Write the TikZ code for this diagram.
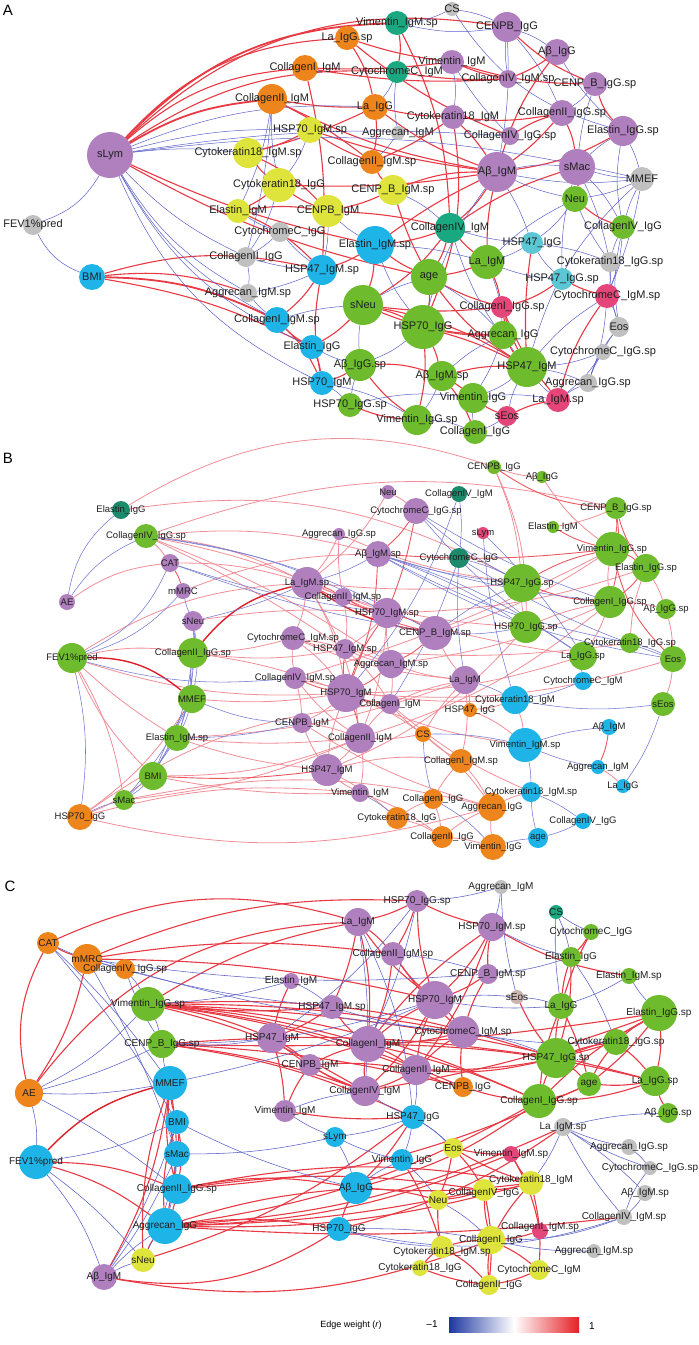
\documentclass[tikz,border=0pt]{standalone}
\usepackage{fontspec}
\setmainfont{Liberation Sans}
\pgfdeclarelayer{back}\pgfdeclarelayer{bg}\pgfdeclarelayer{fg}\pgfsetlayers{back,bg,main,fg}
\definecolor{npur}{RGB}{175,127,190}
\definecolor{nora}{RGB}{238,132,28}
\definecolor{nyel}{RGB}{222,228,60}
\definecolor{nteal}{RGB}{26,168,128}
\definecolor{ngray}{RGB}{192,192,192}
\definecolor{ncyan}{RGB}{30,180,232}
\definecolor{ngreen}{RGB}{110,188,45}
\definecolor{nlteal}{RGB}{92,198,212}
\definecolor{npink}{RGB}{228,70,122}
\definecolor{ndteal}{RGB}{30,138,108}
\definecolor{npgray}{RGB}{202,180,176}
\definecolor{ered}{RGB}{232,58,68}
\definecolor{eblue}{RGB}{92,98,200}
\definecolor{epink}{RGB}{241,142,152}
\definecolor{emred}{RGB}{236,88,96}
\definecolor{edred}{RGB}{222,30,40}
\definecolor{lgblue}{RGB}{30,55,160}
\definecolor{lgred}{RGB}{228,32,38}
\tikzset{
  dot/.style={circle,inner sep=0pt,outer sep=0pt,draw=none},
  labA/.style={font=\fontsize{11}{11}\selectfont,inner sep=0pt,text=black!88},
  labB/.style={font=\fontsize{9.5}{9.5}\selectfont,inner sep=0pt,text=black!88},
  labC/.style={font=\fontsize{10}{10}\selectfont,inner sep=0pt,text=black!88},
  ra/.style={draw=ered,line width=1.1pt},
  raa/.style={draw=ered,line width=1.8pt},
  ba/.style={draw=eblue,line width=0.5pt},
  pk/.style={draw=epink,line width=0.8pt},
  mr/.style={draw=emred,line width=0.9pt},
  dr/.style={draw=edred,line width=1.4pt},
  bb/.style={draw=eblue!85,line width=0.55pt},
  rc/.style={draw=ered,line width=1.1pt},
  bc/.style={draw=eblue,line width=0.55pt},
  panel/.style={font=\fontsize{15}{15}\selectfont,inner sep=0pt}
}
% [#1 label shift], #2 name, #3 x, #4 y, #5 radius, #6 colour, #7 text
\newcommand\nd[7][]{\node[dot,fill=#6,minimum size={2*#5}] (#2) at (#3,#4) {};%
  \begin{pgfonlayer}{fg}\node[lab,#1] (#2t) at (#2.center) {#7};\end{pgfonlayer}}
\newcommand\edges[2]{\begin{pgfonlayer}{bg}\foreach \pa/\pb/\pc in {#2}{\draw[#1] (\pa) to[bend left=\pc] (\pb);}\end{pgfonlayer}}
\begin{document}
\begin{tikzpicture}[x=1pt,y=-1pt]
\useasboundingbox (0,0) rectangle (699,1345);
\begin{pgfonlayer}{back}\fill[white] (0,0) rectangle (699,1345);\end{pgfonlayer}
% ================= PANEL A =================
\node[panel] (pA) at (8,10) {A};
\begin{scope}[lab/.style=labA]
\nd{aLym}{110}{155}{23}{npur}{sLym}
\nd{aFEV}{33}{225}{10}{ngray}{FEV1\%pred}
\nd{aBMI}{92}{277}{13}{ncyan}{BMI}
\nd{aLaGsp}{347}{38}{12}{nora}{La\_IgG.sp}
\nd{aC1M}{305}{68}{13}{nora}{CollagenI\_IgM}
\nd{aC2M}{272}{99}{15}{nora}{CollagenII\_IgM}
\nd{aH70Msp}{310}{130}{13}{nyel}{HSP70\_IgM.sp}
\nd{aK18Msp}{248}{153}{15}{nyel}{Cytokeratin18\_IgM.sp}
\nd{aK18G}{279}{185}{17}{nyel}{Cytokeratin18\_IgG}
\nd{aElM}{238}{211}{12}{nyel}{Elastin\_IgM}
\nd{aCenpbM}{328}{211}{16}{nyel}{CENPB\_IgM}
\nd{aCytCG}{280}{232}{10}{ngray}{CytochromeC\_IgG}
\nd{aCS}{452}{9}{7}{ngray}{CS}
\nd{aVimMsp}{397}{23}{12}{nteal}{Vimentin\_IgM.sp}
\nd{aCenpbG}{507}{27}{15}{npur}{CENPB\_IgG}
\nd{aAbG}{557}{52}{13}{npur}{Aβ\_IgG}
\nd{aVimM}{452}{62}{12}{npur}{Vimentin\_IgM}
\nd{aCytCM}{397}{72}{11}{nteal}{CytochromeC\_IgM}
\nd{aC4Msp}{508}{79}{9}{npur}{CollagenIV\_IgM.sp}
\nd{aCenpBGsp}{595}{84}{12}{npur}{CENP\_B\_IgG.sp}
\nd{aLaG}{375}{107}{13}{nora}{La\_IgG}
\nd{aK18M}{453}{117}{12}{npur}{Cytokeratin18\_IgM}
\nd{aC2Gsp}{562}{113}{13}{npur}{CollagenII\_IgG.sp}
\nd{aAggM}{398}{133}{7}{ngray}{Aggrecan\_IgM}
\nd{aC4Gsp}{510}{136}{9}{npur}{CollagenIV\_IgG.sp}
\nd{aElGsp}{623}{131}{15}{npur}{Elastin\_IgG.sp}
\nd{aC2Msp}{372}{162}{12}{nora}{CollagenII\_IgM.sp}
\nd{aAbM}{497}{172}{20}{npur}{Aβ\_IgM}
\nd{aMac}{577}{167}{18}{npur}{sMac}
\nd{aMMEF}{642}{179}{12}{ngray}{MMEF}
\nd{aCenpBMsp}{393}{190}{15}{nyel}{CENP\_B\_IgM.sp}
\nd{aNeu}{575}{199}{13}{ngreen}{Neu}
\nd{aC4M}{450}{228}{15}{nteal}{CollagenIV\_IgM}
\nd{aC4G}{623}{227}{12}{ngreen}{CollagenIV\_IgG}
\nd{aC2G}{246}{257}{10}{ngray}{CollagenII\_IgG}
\nd{aH47Msp}{322}{270}{15}{ncyan}{HSP47\_IgM.sp}
\nd{aAggMsp}{248}{293}{9}{ngray}{Aggrecan\_IgM.sp}
\nd{aC1Msp}{277}{320}{13}{ncyan}{CollagenI\_IgM.sp}
\nd{aElG}{312}{347}{12}{ncyan}{Elastin\_IgG}
\nd{aH70M}{322}{383}{12}{ncyan}{HSP70\_IgM}
\nd{aElMsp}{375}{245}{19}{ncyan}{Elastin\_IgM.sp}
\nd{aH47G}{532}{243}{11}{nlteal}{HSP47\_IgG}
\nd{aLaM}{487}{262}{17}{ngreen}{La\_IgM}
\nd{aAge}{429}{277}{18}{ngreen}{age}
\nd{aK18Gsp}{610}{262}{10}{ngray}{Cytokeratin18\_IgG.sp}
\nd{aH47Gsp}{562}{279}{11}{nlteal}{HSP47\_IgG.sp}
\nd{aCytCMsp}{607}{296}{12}{npink}{CytochromeC\_IgM.sp}
\nd{aNeuS}{363}{305}{20}{ngreen}{sNeu}
\nd{aC1Gsp}{502}{307}{11}{npink}{CollagenI\_IgG.sp}
\nd{aH70G}{423}{327}{22}{ngreen}{HSP70\_IgG}
\nd{aAggG}{503}{335}{14}{ngreen}{Aggrecan\_IgG}
\nd{aEos}{619}{327}{10}{ngray}{Eos}
\nd{aCytCGsp}{603}{352}{8}{ngray}{CytochromeC\_IgG.sp}
\nd{aAbGsp}{360}{365}{16}{ngreen}{Aβ\_IgG.sp}
\nd{aH47M}{527}{367}{20}{ngreen}{HSP47\_IgM}
\nd{aAbMsp}{442}{376}{15}{ngreen}{Aβ\_IgM.sp}
\nd{aAggGsp}{588}{383}{9}{ngray}{Aggrecan\_IgG.sp}
\nd{aH70Gsp}{350}{405}{12}{ngreen}{HSP70\_IgG.sp}
\nd{aVimG}{473}{398}{15}{ngreen}{Vimentin\_IgG}
\nd{aLaMsp}{558}{400}{12}{npink}{La\_IgM.sp}
\nd{aEosS}{507}{416}{10}{npink}{sEos}
\nd{aVimGsp}{417}{420}{15}{ngreen}{Vimentin\_IgG.sp}
\nd{aC1G}{475}{432}{12}{ngreen}{CollagenI\_IgG}
\end{scope}
\edges{ra}{aLym/aLaGsp/22,aLym/aC1M/18,aLym/aCytCM/18,aLym/aCenpbG/26,aLym/aElMsp/-6,aLym/aAge/-8,
aBMI/aH47Msp/14,aBMI/aAggMsp/12,aBMI/aElG/8,
aLaGsp/aVimM/-5,aLaGsp/aC4Gsp/-8,aLaGsp/aLaG/10,aC1M/aVimM/-4,aC1M/aC4Msp/-6,aC1M/aH47Msp/8,
aC2M/aLaG/-5,aC2M/aC2Msp/5,aC2M/aAbM/-8,
aVimMsp/aCytCM/10,aVimMsp/aC4M/12,aCenpbG/aCenpBGsp/-10,aAbG/aC4Msp/6,aAbG/aAbM/-10,
aVimM/aC4Msp/-5,aVimM/aCenpBGsp/-8,aCytCM/aC4Msp/-5,aCenpBGsp/aElGsp/-12,
aLaG/aK18M/-5,aLaG/aC2Msp/8,aLaG/aAbM/-8,aK18M/aAbM/6,aK18M/aC2Gsp/-8,aK18M/aH70G/15,
aC2Gsp/aMac/8,aC2Gsp/aC4Gsp/-8,aC2Gsp/aAbM/6,aElGsp/aAbM/10,
aAbM/aC4M/8,aAbM/aCenpBMsp/-10,aAbM/aElMsp/-5,aAbM/aLaM/-6,
aMac/aNeu/8,aMac/aC4M/-8,aNeu/aC4G/-10,
aH70Msp/aK18Msp/6,aH70Msp/aC2Msp/-5,aH70Msp/aAbM/-5,aK18Msp/aK18G/-8,aK18Msp/aCenpbM/10,aK18Msp/aLaG/-5,
aK18G/aElM/6,aK18G/aCenpbM/-6,aK18G/aAbM/-5,aElM/aCenpbM/8,aElM/aH47Msp/10,
aCenpbM/aCenpBMsp/-6,aCenpbM/aC4M/5,aCenpBMsp/aC2Msp/8,aCenpBMsp/aAge/-5,aC2Msp/aK18M/-6,
aH47Msp/aC1Msp/8,aH47Msp/aElMsp/-6,aH47Msp/aH70M/-10,
aC1Msp/aElG/-8,aC1Msp/aH70M/10,aElG/aH70M/8,aElG/aNeuS/-8,aH70M/aAbGsp/-6,
aElMsp/aAge/-6,aElMsp/aNeuS/8,aElMsp/aC4M/-6,
aC4M/aAge/8,aC4M/aLaM/-6,aC4M/aNeuS/10,
aAge/aLaM/-6,aAge/aH70G/8,aAge/aC1Gsp/-6,aAge/aH47M/-10,aLaM/aC1Gsp/6,aH47G/aH47M/-5,
aH47Gsp/aCytCMsp/-6,aH47Gsp/aC1Gsp/10,aCytCMsp/aLaMsp/-10,
aNeuS/aH70G/6,aNeuS/aAggG/-10,aNeuS/aH47M/10,aNeuS/aC1Gsp/-6,
aC1Gsp/aAggG/8,aC1Gsp/aH47M/-5,aC1Gsp/aLaMsp/-8,
aH70G/aAggG/-6,aH70G/aAbMsp/6,aH70G/aVimGsp/8,aH70G/aH47M/5,
aAggG/aH47M/-6,aAbGsp/aAbMsp/10,aAbGsp/aVimGsp/-8,
aH47M/aAbMsp/-8,aAbMsp/aVimG/6,aAbMsp/aC1G/8,aH70Gsp/aVimGsp/-8,
aVimG/aEosS/-6,aLaMsp/aEosS/-8}
\edges{raa}{aLym/aVimMsp/22,aLym/aC2M/12,aBMI/aC1Msp/12}
\edges{ba}{aLym/aH70Msp/8,aLym/aK18Msp/6,aLym/aLaG/12,aLym/aC4Gsp/6,aLym/aMMEF/10,aLym/aFEV/20,
aLym/aAggMsp/-14,aLym/aC1Msp/-16,aLym/aElG/-18,aLym/aH70M/-20,aLym/aC2G/-10,
aFEV/aBMI/-20,
aC2M/aC2G/5,aC2M/aElM/8,aC2M/aK18G/-6,
aVimMsp/aCenpbG/-10,aCS/aVimMsp/10,aCS/aCenpbG/8,aCS/aElGsp/-20,
aCenpbG/aAbG/8,aCenpbG/aC4Msp/-6,aCenpbG/aC2Gsp/8,aCenpbG/aAbM/6,aAbG/aElGsp/-8,
aVimM/aK18M/8,aVimM/aC4Gsp/-6,aCytCM/aLaG/8,aCytCM/aAggM/-8,aCenpBGsp/aC2Gsp/8,aCenpBGsp/aMac/-6,
aElGsp/aMMEF/6,aElGsp/aMac/-6,aElGsp/aC4G/-10,
aAbM/aMac/8,aAbM/aNeu/-6,aAbM/aMMEF/-8,aAbM/aH70G/-10,aAbM/aH47G/6,
aMac/aMMEF/-6,aMac/aC4G/8,aMac/aH47Gsp/-8,aMac/aK18Gsp/6,
aMMEF/aNeu/8,aMMEF/aC4G/-6,aMMEF/aH47M/-15,aMMEF/aCytCMsp/6,
aNeu/aK18Gsp/-6,aNeu/aH47G/8,aNeu/aLaM/-8,
aC4G/aCytCMsp/8,aC4G/aK18Gsp/-6,aC4G/aEos/-10,
aH70Msp/aK18G/8,aK18G/aC2G/8,aElM/aCytCG/-6,aCenpbM/aH47Msp/6,aCenpbM/aElMsp/-6,
aCenpBMsp/aC4M/8,aC2Msp/aAggM/-6,aCytCG/aC2G/6,aCytCG/aH47Msp/-6,
aC2G/aAggMsp/8,aC2G/aH47Msp/-6,aH47Msp/aAggMsp/6,aAggMsp/aC1Msp/-8,
aC1Msp/aNeuS/6,aElG/aAbGsp/-6,aH70M/aH70Gsp/8,aH70M/aVimGsp/10,
aElMsp/aLaM/6,aElMsp/aH70G/-8,aC4M/aH47G/-6,aC4M/aH47M/-10,
aAge/aNeuS/-6,aAge/aAggG/8,aLaM/aH47G/-6,aLaM/aAggG/8,aLaM/aH47Gsp/-8,
aH47G/aK18Gsp/6,aH47G/aH47Gsp/-8,aK18Gsp/aCytCMsp/8,aK18Gsp/aEos/-8,
aCytCMsp/aEos/6,aCytCMsp/aH47M/-8,aCytCMsp/aAggGsp/8,
aNeuS/aAbGsp/-6,aH70G/aAbGsp/8,aAggG/aAbMsp/-8,aAggG/aVimG/6,
aEos/aCytCGsp/-6,aEos/aAggGsp/-10,aCytCGsp/aH47M/8,aCytCGsp/aAggGsp/-6,aCytCGsp/aLaMsp/8,
aAbGsp/aH70Gsp/-6,aH47M/aVimG/8,aH47M/aLaMsp/-6,aH47M/aAggGsp/6,aH47M/aEosS/-8,
aAbMsp/aVimGsp/6,aAggGsp/aLaMsp/-6,aH70Gsp/aVimG/10,aVimG/aC1G/-6,aVimG/aLaMsp/8,
aEosS/aC1G/6,aVimGsp/aC1G/10}
% ================= PANEL B =================
\node[panel] (pB) at (8,458) {B};
\begin{scope}[lab/.style=labB]
\nd{bElG}{121}{510}{9}{ndteal}{Elastin\_IgG}
\nd{bC4Gsp}{146}{536}{12}{ngreen}{CollagenIV\_IgG.sp}
\nd{bCAT}{170}{563}{9}{npur}{CAT}
\nd{bMRC}{183}{591}{8}{npur}{mMRC}
\nd{bAE}{67}{602}{8}{npur}{AE}
\nd{bNeuS}{193}{621}{10}{npur}{sNeu}
\nd{bFEV}{72}{658}{15}{ngreen}{FEV1\%pred}
\nd{bC2Gsp}{193}{653}{15}{ngreen}{CollagenII\_IgG.sp}
\nd{bMMEF}{192}{699}{14}{ngreen}{MMEF}
\nd{bElMsp}{177}{738}{13}{ngreen}{Elastin\_IgM.sp}
\nd{bBMI}{153}{776}{14}{ngreen}{BMI}
\nd{bMac}{124}{800}{10}{ngreen}{sMac}
\nd{bH70G}{80}{817}{13}{nora}{HSP70\_IgG}
\nd{bAggGsp}{339}{534}{6}{npur}{Aggrecan\_IgG.sp}
\nd{bNeu}{388}{492}{7}{npur}{Neu}
\nd{bC4M}{459}{494}{8}{ndteal}{CollagenIV\_IgM}
\nd{bCytCGsp}{416}{511}{13}{npur}{CytochromeC\_IgG.sp}
\nd{bCenpbG}{494}{467}{7}{ngreen}{CENPB\_IgG}
\nd{bAbG}{542}{477}{6}{ngreen}{Aβ\_IgG}
\nd{bCenpBGsp}{616}{508}{11}{ngreen}{CENP\_B\_IgG.sp}
\nd{bElM}{553}{527}{6}{ngreen}{Elastin\_IgM}
\nd{bLym}{483}{533}{6}{npink}{sLym}
\nd{bAbMsp}{378}{554}{13}{npur}{Aβ\_IgM.sp}
\nd{bCytCG}{459}{558}{10}{ndteal}{CytochromeC\_IgG}
\nd{bVimGsp}{612}{549}{17}{ngreen}{Vimentin\_IgG.sp}
\nd{bElGsp}{646}{568}{14}{ngreen}{Elastin\_IgG.sp}
\nd{bH47Gsp}{522}{583}{19}{ngreen}{HSP47\_IgG.sp}
\nd{bC1Gsp}{610}{602}{16}{ngreen}{CollagenI\_IgG.sp}
\nd{bAbGsp}{666}{609}{10}{ngreen}{Aβ\_IgG.sp}
\nd{bLaMsp}{307}{583}{16}{npur}{La\_IgM.sp}
\nd{bC2Msp}{343}{597}{9}{npur}{CollagenII\_IgM.sp}
\nd{bH70Msp}{387}{613}{15}{npur}{HSP70\_IgM.sp}
\nd{bH70Gsp}{526}{627}{16}{ngreen}{HSP70\_IgG.sp}
\nd{bCenpBMsp}{435}{633}{17}{npur}{CENP\_B\_IgM.sp}
\nd{bK18Gsp}{630}{643}{10}{ngreen}{Cytokeratin18\_IgG.sp}
\nd{bCytCMsp}{293}{638}{12}{npur}{CytochromeC\_IgM.sp}
\nd{bH47Msp}{345}{649}{10}{npur}{HSP47\_IgM.sp}
\nd{bLaGsp}{583}{656}{14}{ngreen}{La\_IgG.sp}
\nd{bEos}{673}{659}{13}{ngreen}{Eos}
\nd{bAggMsp}{391}{664}{14}{npur}{Aggrecan\_IgM.sp}
\nd{bC4Msp}{295}{678}{11}{npur}{CollagenIV\_IgM.sp}
\nd{bLaM}{465}{680}{14}{npur}{La\_IgM}
\nd{bCytCM}{583}{681}{9}{ncyan}{CytochromeC\_IgM}
\nd{bH70M}{346}{693}{19}{npur}{HSP70\_IgM}
\nd{bK18M}{515}{700}{14}{ncyan}{Cytokeratin18\_IgM}
\nd{bEosS}{663}{704}{12}{ngreen}{sEos}
\nd{bC1M}{390}{704}{10}{npur}{CollagenI\_IgM}
\nd{bH47G}{470}{710}{7}{nora}{HSP47\_IgG}
\nd{bCenpbM}{302}{723}{10}{npur}{CENPB\_IgM}
\nd{bAbM}{609}{727}{8}{ncyan}{Aβ\_IgM}
\nd{bCS}{423}{734}{8}{nora}{CS}
\nd{bC2M}{360}{738}{15}{npur}{CollagenII\_IgM}
\nd{bVimMsp}{525}{745}{17}{ncyan}{Vimentin\_IgM.sp}
\nd{bC1Msp}{461}{761}{12}{nora}{CollagenI\_IgM.sp}
\nd{bAggM}{598}{767}{7}{ncyan}{Aggrecan\_IgM}
\nd{bH47M}{327}{770}{16}{npur}{HSP47\_IgM}
\nd{bLaG}{623}{786}{7}{ncyan}{La\_IgG}
\nd{bK18Msp}{531}{792}{10}{ncyan}{Cytokeratin18\_IgM.sp}
\nd{bVimM}{360}{793}{9}{npur}{Vimentin\_IgM}
\nd{bC1G}{433}{799}{10}{nora}{CollagenI\_IgG}
\nd{bAggG}{492}{807}{14}{nora}{Aggrecan\_IgG}
\nd{bK18G}{397}{818}{11}{nora}{Cytokeratin18\_IgG}
\nd{bC4G}{583}{821}{8}{ncyan}{CollagenIV\_IgG}
\nd{bC2G}{442}{837}{11}{nora}{CollagenII\_IgG}
\nd{bAge}{538}{838}{10}{ncyan}{age}
\nd{bVimG}{493}{847}{13}{nora}{Vimentin\_IgG}
\end{scope}
\edges{pk}{bElG/bCenpbG/25,bElG/bH47Gsp/18,bC4Gsp/bCenpBGsp/16,bCenpbG/bAbG/-8,bCenpbG/bH47Gsp/8,
bCAT/bAE/-14,bC4Gsp/bCAT/6,bC4Gsp/bLaMsp/10,bC4Gsp/bC2Msp/6,bC4Gsp/bAbMsp/10,bC4Gsp/bH47Msp/4,bC4Gsp/bAggMsp/6,
bCAT/bLaMsp/8,bFEV/bC2Gsp/10,bFEV/bElMsp/-5,bFEV/bBMI/-10,bFEV/bMac/10,bFEV/bH70M/-10,
bC2Gsp/bCytCMsp/-6,bC2Gsp/bH47Msp/-8,bC2Gsp/bH70M/6,bMMEF/bH70M/-6,bElMsp/bH47M/-6,bElMsp/bC2M/-5,
bBMI/bH70G/6,bBMI/bC2M/-10,bBMI/bVimM/-6,bMac/bAggG/12,bH70G/bVimM/10,bH70G/bC1M/15,bH70G/bMMEF/-10,
bLaMsp/bH47Gsp/-5,bLaMsp/bCytCMsp/8,bLaMsp/bH70M/10,bLaMsp/bC2M/12,
bC2Msp/bH70Msp/-6,bC2Msp/bH47Msp/8,bH70Msp/bAggMsp/-6,bH70Msp/bH47Msp/6,bH70Msp/bC2M/8,
bCenpBMsp/bLaM/-6,bCytCMsp/bH47Msp/-6,bCytCMsp/bH70M/8,bCytCMsp/bC4Msp/-6,bCytCMsp/bAggMsp/6,
bH47Msp/bAggMsp/-6,bH47Msp/bC1M/8,bAggMsp/bLaM/-6,bAggMsp/bC1M/6,
bC4Msp/bCenpbM/6,bC4Msp/bC2M/-8,bH70M/bCenpbM/6,bH70M/bH47M/-8,bH70M/bCS/6,
bC1M/bC2M/-6,bC1M/bLaM/6,bC1M/bCS/-6,bCenpbM/bC2M/6,bCenpbM/bH47M/-6,bC2M/bH47M/6,bC2M/bCS/-6,bC2M/bVimM/8,
bH47M/bVimM/-6,bH47M/bC1Msp/10,bLaM/bH47G/6,bLaM/bCS/-6,bLaM/bC1Msp/8,bCS/bC1Msp/-6,bCS/bAggG/8,
bH47G/bK18M/-6,bH47G/bVimMsp/8,bC1Msp/bC1G/-6,bC1Msp/bAggG/6,bC1G/bK18G/-6,bC1G/bC2G/6,bAggG/bVimG/-6,
bK18G/bC2G/8,bC2G/bVimG/6,bAggG/bC2G/-6,bK18M/bVimMsp/6,bK18Msp/bAggG/-6,bAggM/bLaG/6,
bVimGsp/bC1Gsp/-8,bElGsp/bAbGsp/6,bElGsp/bK18Gsp/-8,bC1Gsp/bAbGsp/6,bC1Gsp/bH70Gsp/-6,bC1Gsp/bLaGsp/6,
bH47Gsp/bH70Gsp/-6,bEos/bEosS/8,bEos/bAbGsp/-6,bElM/bCenpBGsp/-6,
bNeu/bCytCGsp/6,bNeu/bLaMsp/10,bAggGsp/bLaMsp/8,bAggGsp/bC2Msp/-6,bAggGsp/bH47Gsp/-8,
bH70M/bLaGsp/-8,bC2M/bC1Gsp/-10,bH47M/bH70Gsp/-12,bH70M/bEos/-10,bC4Msp/bVimGsp/-5,
bCenpbG/bH70Gsp/12,bAbG/bVimGsp/-10,bLaMsp/bLaGsp/-6,bH47Msp/bK18Gsp/-6,bAggMsp/bC1Gsp/-8,
bCenpBMsp/bVimGsp/-8,bH70Msp/bElGsp/-8,bC2Msp/bH70Gsp/-6,bCytCMsp/bLaM/-8,bC4Msp/bK18M/-8,
bH70M/bVimMsp/-8,bC1M/bK18Msp/-8,bCenpbM/bAggG/-8,bH47M/bK18G/6,bVimM/bC2G/8,
bFEV/bLaMsp/14,bNeuS/bH70Msp/6,bMRC/bAbMsp/10,bH70G/bAggG/-14,bMac/bC2M/-8,bElMsp/bLaM/-8}
\edges{mr}{bCenpbG/bCenpBGsp/-15,bCAT/bMRC/8,bBMI/bH47M/-5,bLaMsp/bC2Msp/8,bLaMsp/bH70Msp/-8,bC2Msp/bCenpBMsp/-8,
bH70Msp/bCenpBMsp/8,bH70Msp/bH70M/-8,bCenpBMsp/bAggMsp/8,bH47Msp/bH70M/-6,bAggMsp/bH70M/8,bC4Msp/bH70M/-6,
bH70M/bC1M/-6,bH70M/bC2M/8,bAbM/bAggM/8,bCenpBGsp/bVimGsp/8,bCenpBGsp/bElGsp/-10,bCenpBGsp/bC1Gsp/10,
bVimGsp/bElGsp/8,bVimGsp/bH47Gsp/-8,bElGsp/bC1Gsp/8,bH47Gsp/bC1Gsp/-8,bVimGsp/bEos/-15,bElM/bVimGsp/-8,
bCytCGsp/bAbMsp/8,bCytCGsp/bH70Msp/5,bAbMsp/bH70M/10,bAbMsp/bVimGsp/-5}
\edges{dr}{bFEV/bMMEF/20,bC2Gsp/bLaMsp/18,bLaMsp/bCenpBMsp/-12}
\edges{bb}{bElG/bAE/-20,bC4Gsp/bAE/-15,bC4Gsp/bH70Msp/10,bC4Gsp/bCenpBMsp/10,bCAT/bFEV/20,bCAT/bH70Msp/-5,bCAT/bCenpBMsp/-5,
bMRC/bNeuS/-6,bMRC/bFEV/15,bNeuS/bC2Gsp/6,bNeuS/bLaMsp/-5,bNeuS/bMMEF/10,bNeuS/bElMsp/10,
bFEV/bH70G/10,bFEV/bC4Msp/-10,bC2Gsp/bMMEF/-6,bC2Gsp/bElMsp/8,bC2Gsp/bBMI/10,
bMMEF/bElMsp/6,bMMEF/bBMI/-5,bMMEF/bMac/6,bMMEF/bCenpbM/-10,bElMsp/bBMI/-6,bElMsp/bMac/6,bElMsp/bCenpbM/-6,
bBMI/bMac/6,bMac/bH70G/-6,bLaMsp/bAbMsp/-6,bCenpBMsp/bH70Gsp/-6,bCenpBMsp/bH47Gsp/6,
bLaM/bK18M/6,bCS/bC1G/-6,bCS/bVimMsp/6,bC1G/bVimG/8,bK18G/bVimM/-6,
bK18M/bCytCM/-6,bK18M/bEosS/-8,bVimMsp/bK18Msp/6,bVimMsp/bAggM/-6,bVimMsp/bAbM/6,
bK18Msp/bAge/-6,bK18Msp/bC4G/6,bLaG/bEosS/-8,bC4G/bAge/6,bAge/bVimG/-6,bK18Gsp/bEos/6,bLaGsp/bCytCM/-6,
bCytCGsp/bH47Gsp/-6,bCytCGsp/bC1Gsp/-6,bC4M/bCytCG/6,bC4M/bH70M/10,bLym/bK18M/-6,
bCytCG/bH47Gsp/6,bCytCG/bLaM/-6,bCytCG/bC1M/6,bAbMsp/bH47Gsp/-6,bAbMsp/bC1Gsp/-5,bAbMsp/bH70Gsp/6,bAbMsp/bLaGsp/8,
bAbMsp/bK18Gsp/-8,bCytCGsp/bLaGsp/-8,bCytCG/bEos/-6,bLym/bLaGsp/6,bAbMsp/bEos/-10}
% ================= PANEL C =================
\node[panel] (pC) at (10,886) {C};
\begin{scope}[lab/.style=labC]
\nd{cCAT}{48}{943}{11}{nora}{CAT}
\nd{cMRC}{87}{959}{15}{nora}{mMRC}
\nd{cC4Gsp}{125}{969}{10}{nora}{CollagenIV\_IgG.sp}
\nd{cVimGsp}{148}{1004}{17}{ngreen}{Vimentin\_IgG.sp}
\nd{cElM}{291}{981}{8}{npur}{Elastin\_IgM}
\nd{cH47Msp}{332}{1007}{12}{npur}{HSP47\_IgM.sp}
\nd{cH47M}{272}{1038}{15}{npur}{HSP47\_IgM}
\nd{cCenpBGsp}{162}{1044}{14}{ngreen}{CENP\_B\_IgG.sp}
\nd{cCenpbM}{310}{1065}{11}{npur}{CENPB\_IgM}
\nd{cAE}{29}{1093}{14}{nora}{AE}
\nd{cMMEF}{170}{1083}{17}{ncyan}{MMEF}
\nd{cVimM}{285}{1111}{11}{npur}{Vimentin\_IgM}
\nd{cAggM}{501}{887}{7}{ngray}{Aggrecan\_IgM}
\nd{cH70Gsp}{417}{901}{11}{npur}{HSP70\_IgG.sp}
\nd{cLaM}{358}{922}{14}{npur}{La\_IgM}
\nd{cCS}{556}{912}{7}{nteal}{CS}
\nd{cH70Msp}{492}{927}{14}{npur}{HSP70\_IgM.sp}
\nd{cCytCG}{591}{932}{8}{ngreen}{CytochromeC\_IgG}
\nd{cC2Msp}{393}{954}{12}{npur}{CollagenII\_IgM.sp}
\nd{cElG}{571}{957}{10}{ngreen}{Elastin\_IgG}
\nd{cCenpBMsp}{488}{974}{10}{npur}{CENP\_B\_IgM.sp}
\nd{cElMsp}{629}{976}{8}{ngreen}{Elastin\_IgM.sp}
\nd{cEosS}{517}{997}{7}{npgray}{sEos}
\nd{cH70M}{435}{1000}{19}{npur}{HSP70\_IgM}
\nd{cLaG}{561}{1006}{13}{ngreen}{La\_IgG}
\nd{cElGsp}{659}{1013}{18}{ngreen}{Elastin\_IgG.sp}
\nd{cCytCMsp}{463}{1032}{16}{npur}{CytochromeC\_IgM.sp}
\nd{cC1M}{368}{1044}{18}{npur}{CollagenI\_IgM}
\nd{cK18Gsp}{616}{1042}{13}{ngreen}{Cytokeratin18\_IgG.sp}
\nd{cH47Gsp}{556}{1058}{20}{ngreen}{HSP47\_IgG.sp}
\nd{cC2M}{416}{1070}{15}{npur}{CollagenII\_IgM}
\nd{cAge}{589}{1084}{12}{ngreen}{age}
\nd{cLaGsp}{655}{1081}{15}{ngreen}{La\_IgG.sp}
\nd{cCenpbG}{463}{1087}{10}{nora}{CENPB\_IgG}
\nd{cC4M}{365}{1091}{15}{npur}{CollagenIV\_IgM}
\nd{cC1Gsp}{539}{1101}{17}{ngreen}{CollagenI\_IgG.sp}
\nd{cH47G}{413}{1117}{12}{ncyan}{HSP47\_IgG}
\nd{cAbGsp}{668}{1113}{10}{ngreen}{Aβ\_IgG.sp}
\nd{cBMI}{177}{1122}{12}{ncyan}{BMI}
\nd{cLym}{335}{1137}{10}{ncyan}{sLym}
\nd{cLaMsp}{563}{1127}{9}{ngray}{La\_IgM.sp}
\nd{cMac}{177}{1154}{13}{ncyan}{sMac}
\nd{cEos}{453}{1148}{10}{nyel}{Eos}
\nd{cAggGsp}{629}{1147}{8}{ngray}{Aggrecan\_IgG.sp}
\nd{cFEV}{36}{1162}{17}{ncyan}{FEV1\%pred}
\nd{cVimMsp}{511}{1154}{8}{npink}{Vimentin\_IgM.sp}
\nd{cVimG}{402}{1160}{11}{ncyan}{Vimentin\_IgG}
\nd{cCytCGsp}{650}{1168}{7}{ngray}{CytochromeC\_IgG.sp}
\nd[yshift=3pt]{cK18M}{531}{1183}{12}{nyel}{Cytokeratin18\_IgM}
\nd[yshift=-3pt]{cC4G}{484}{1190}{11}{nyel}{CollagenIV\_IgG}
\nd{cAbG}{356}{1188}{16}{ncyan}{Aβ\_IgG}
\nd{cC2Gsp}{177}{1189}{15}{ncyan}{CollagenII\_IgG.sp}
\nd{cAbMsp}{645}{1193}{8}{ngray}{Aβ\_IgM.sp}
\nd{cNeu}{438}{1200}{10}{nyel}{Neu}
\nd{cC4Msp}{624}{1217}{8}{ngray}{CollagenIV\_IgM.sp}
\nd{cAggG}{165}{1226}{18}{ncyan}{Aggrecan\_IgG}
\nd{cH70G}{339}{1229}{12}{ncyan}{HSP70\_IgG}
\nd[yshift=4pt]{cC1Msp}{540}{1231}{8}{npink}{CollagenI\_IgM.sp}
\nd{cC1G}{491}{1240}{14}{nyel}{CollagenI\_IgG}
\nd[yshift=-5pt]{cK18Msp}{442}{1247}{11}{nyel}{Cytokeratin18\_IgM.sp}
\nd{cAggMsp}{594}{1251}{7}{ngray}{Aggrecan\_IgM.sp}
\nd{cNeuS}{143}{1260}{12}{nyel}{sNeu}
\nd{cK18G}{420}{1268}{8}{nyel}{Cytokeratin18\_IgG}
\nd{cCytCM}{539}{1270}{10}{nyel}{CytochromeC\_IgM}
\nd{cAbM}{104}{1277}{13}{npur}{Aβ\_IgM}
\nd{cC2G}{489}{1285}{10}{nyel}{CollagenII\_IgG}
\end{scope}
\edges{rc}{cCAT/cMRC/-6,cCAT/cLaM/20,cCAT/cAE/-20,cMRC/cH70Gsp/12,cMRC/cC2Msp/8,cMRC/cH70M/6,cMRC/cAE/10,cAE/cLaM/25,
cVimGsp/cH47Msp/-5,cVimGsp/cH47M/6,cVimGsp/cC1M/5,cVimGsp/cCytCMsp/5,cVimGsp/cC2M/6,cVimGsp/cH47Gsp/10,cVimGsp/cC1Gsp/10,
cVimGsp/cLaGsp/6,cVimGsp/cLaM/10,cVimGsp/cCenpbG/8,cVimGsp/cC4M/8,
cCenpBGsp/cC4M/6,cCenpBGsp/cCenpbG/5,cCenpBGsp/cH47G/8,cCenpBGsp/cElGsp/-5,cCenpBGsp/cH47Gsp/6,
cMMEF/cBMI/-6,cMMEF/cMac/-10,cMMEF/cC2Gsp/-10,cMMEF/cAggG/10,cMMEF/cNeuS/-10,cMMEF/cAbM/10,
cBMI/cMac/8,cBMI/cC2Gsp/10,cBMI/cAggG/-10,cMac/cC2Gsp/-8,cC2Gsp/cAggG/8,cC2Gsp/cAbG/10,cC2Gsp/cK18M/10,cC2Gsp/cC4G/8,cC2Gsp/cFEV/-10,
cAggG/cNeuS/-8,cAggG/cH70G/8,cAggG/cAbG/6,cAggG/cC4G/-5,cAggG/cK18M/-8,cAggG/cFEV/-10,cAggG/cVimMsp/-10,
cAbM/cH70G/-20,cLaM/cH70Gsp/-6,cLaM/cC2Msp/6,cLaM/cH70M/-8,cLaM/cC1M/8,cLaM/cH47Msp/6,
cH70Gsp/cH70Msp/-6,cH70Gsp/cC2Msp/6,cH70Gsp/cH70M/-8,cH70Msp/cCenpBMsp/-6,cH70Msp/cH70M/8,cH70Msp/cC1M/-8,
cH70Msp/cC2M/8,cH70Msp/cElMsp/-10,cC2Msp/cH70M/-6,cC2Msp/cC1M/8,cC2Msp/cCytCMsp/-6,cCenpBMsp/cH70M/6,cCenpBMsp/cCytCMsp/-6,
cH70M/cC1M/-6,cH70M/cCytCMsp/6,cH70M/cC2M/-8,cH70M/cC4M/8,cCytCMsp/cC2M/-6,cCytCMsp/cC1M/6,cCytCMsp/cCenpbG/-6,
cC1M/cC2M/6,cC1M/cC4M/-6,cC1M/cH47Msp/8,cC1M/cCenpbM/-6,cC2M/cC4M/6,cC2M/cCenpbG/-6,cC4M/cCenpbM/6,
cElM/cH47M/-6,cH47M/cCenpbM/6,cH47M/cH47Msp/-6,cH47M/cVimM/6,cH47M/cC4M/-8,cCenpbM/cVimM/-6,cCenpbM/cC2M/6,cVimM/cH47G/-6,
cCytCG/cElG/6,cCytCG/cLaG/-5,cElG/cLaG/-6,cElG/cH47Gsp/8,cLaG/cH47Gsp/-6,cLaG/cAge/6,cLaG/cC1Gsp/-8,
cElGsp/cK18Gsp/-6,cElGsp/cLaGsp/8,cElGsp/cH47Gsp/6,cElGsp/cC1Gsp/-8,cElGsp/cAge/6,cK18Gsp/cH47Gsp/-6,cK18Gsp/cLaGsp/6,
cK18Gsp/cAge/-6,cH47Gsp/cAge/6,cH47Gsp/cC1Gsp/-6,cAge/cLaGsp/-6,cAge/cC1Gsp/6,cLaGsp/cAbGsp/-6,cLaGsp/cC1Gsp/8,cEosS/cH47Gsp/-6,
cH47Gsp/cC2M/8,cC1Gsp/cC1M/-5,cC1Gsp/cCenpbG/6,cK18Gsp/cC2M/8,cElGsp/cC4M/5,cLaGsp/cC1M/-6,
cEos/cVimMsp/-6,cEos/cNeu/6,cEos/cK18M/-6,cEos/cC4G/6,cVimMsp/cK18M/-6,cVimMsp/cC1Msp/8,cK18M/cC4G/6,cK18M/cC1G/-6,cK18M/cCytCM/8,
cC4G/cC1G/-6,cC4G/cNeu/6,cC4G/cC2G/8,cNeu/cK18Msp/-6,cK18Msp/cC1G/6,cK18Msp/cK18G/-6,cK18Msp/cC2G/8,cC1G/cC1Msp/-6,cC1G/cCytCM/6,
cC1G/cC2G/-6,cCytCM/cC2G/6,cK18G/cC2G/-6,cH47G/cAbG/6,cAbG/cH70G/-6,cAbG/cK18M/-5,cAbG/cNeu/6,cAbG/cC1Gsp/-10,cH70G/cLaMsp/-10,
cVimG/cK18Msp/6,cAggG/cLaMsp/-10,cAggG/cC1Gsp/-10,cC2Gsp/cAge/-10,cAggG/cC4Msp/-5,cNeuS/cH47G/-10,cAbM/cC1G/-15}
\edges{dr}{cFEV/cMMEF/15}
\edges{bc}{cCAT/cMMEF/5,cCAT/cC4Gsp/-6,cCAT/cBMI/5,cMRC/cC4Gsp/6,cMRC/cMac/5,cMRC/cH47Msp/-5,cMRC/cCenpBMsp/-6,
cC4Gsp/cVimGsp/6,cC4Gsp/cCenpBGsp/-6,cC4Gsp/cCytCMsp/-5,cAE/cVimGsp/-10,cAE/cCenpBGsp/-5,cAE/cMMEF/-6,cAE/cFEV/8,cAE/cC2Gsp/5,
cVimGsp/cCenpBGsp/6,cVimGsp/cElM/-6,cCenpBGsp/cMMEF/-6,cCenpBGsp/cH47M/-6,cCenpBGsp/cH70M/-8,cMMEF/cH70M/-5,
cBMI/cFEV/8,cBMI/cAbG/-6,cMac/cAggG/6,cMac/cLym/-6,cMac/cNeuS/8,cMac/cAbM/6,cAggG/cAbM/-6,cFEV/cAbM/10,cFEV/cNeuS/6,cNeuS/cAbM/-6,cAbM/cBMI/-6,
cLaM/cC4M/6,cH70Gsp/cAggM/-6,cH70Gsp/cC1M/6,cAggM/cH70Msp/6,cAggM/cEosS/-6,cH70Msp/cElG/-6,cC2Msp/cCenpBMsp/6,cCenpBMsp/cElG/-6,
cH70M/cEosS/6,cH70M/cLaG/-6,cCytCMsp/cH47Gsp/6,cCytCMsp/cK18Gsp/-6,cC2M/cH47G/6,cC4M/cH47G/-6,cElM/cH47Msp/6,cVimM/cLym/-6,cVimM/cC4M/6,
cCS/cCytCG/-6,cCS/cElG/6,cCS/cLaG/-5,cElG/cK18Gsp/6,cElMsp/cElGsp/-6,cElMsp/cLaG/6,cAbGsp/cLaMsp/-6,cEosS/cLaG/6,
cLaMsp/cAggGsp/-6,cLaMsp/cAbMsp/6,cLaMsp/cC4Msp/-6,cLaMsp/cK18M/6,cLaMsp/cCytCGsp/-6,cAggGsp/cCytCGsp/6,cCytCGsp/cC4Msp/-10,
cAbMsp/cC4Msp/6,cC4Msp/cC1G/10,cC4Msp/cH70G/15,cEos/cH47G/-6,cNeu/cC1G/6,cC1G/cAggMsp/-6,
cLym/cH47G/-6,cLym/cAbG/6,cLym/cVimG/-6,cH47G/cVimG/6,cVimG/cAbG/-6,cVimG/cNeu/6,cH70G/cK18Msp/-6,cH70G/cC1G/5,cH47G/cEos/6,
cH47Msp/cCytCMsp/-6,cLaM/cH47G/10,cH70Gsp/cH47M/8}
% ================= LEGEND =================
\node[font=\fontsize{9}{9}\selectfont,inner sep=0pt] (lgt) at (351,1325) {Edge weight (\textit{r})};
\node[font=\fontsize{10}{10}\selectfont,inner sep=0pt] (lgm) at (432,1324) {–1};
\shade[left color=lgblue,right color=lgred,middle color=white] (449,1317) rectangle (579,1332);
\node[font=\fontsize{10}{10}\selectfont,inner sep=0pt] (lgp) at (592,1326) {1};
\end{tikzpicture}
\end{document}
